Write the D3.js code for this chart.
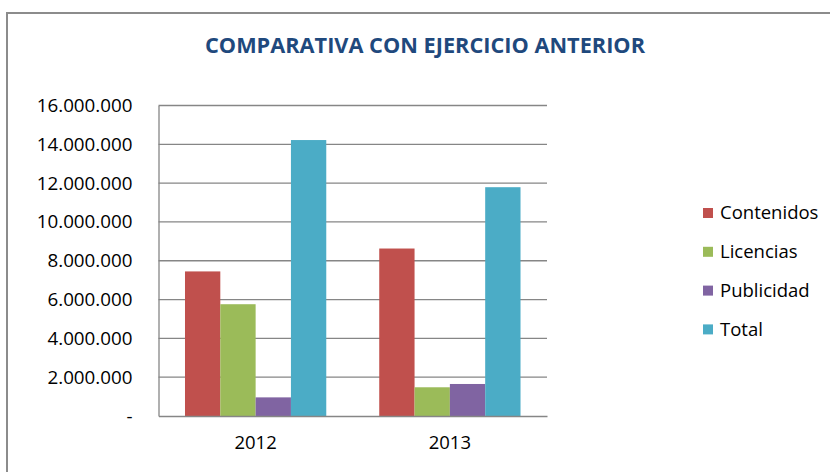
<!DOCTYPE html>
<html><head><meta charset="utf-8">
<script src="https://cdn.jsdelivr.net/npm/d3@7"></script>
<style>body{margin:0;background:#fff}svg{display:block}</style>
</head><body><svg id="c" width="830" height="472"></svg>
<script>
const title = "COMPARATIVA CON EJERCICIO ANTERIOR";
const categories = ["2012", "2013"];
const seriesNames = ["Contenidos", "Licencias", "Publicidad", "Total"];
const seriesColors = ["#C0504D", "#9BBB59", "#8064A2", "#4BACC6"];
const contenidos = [7450000, 8630000];
const licencias = [5760000, 1480000];
const publicidad = [960000, 1650000];
const total = [14220000, 11790000];
const yTicks = [0, 2000000, 4000000, 6000000, 8000000, 10000000, 12000000, 14000000, 16000000];

const values = [contenidos, licencias, publicidad, total];
const svg = d3.select("#c");
const font = "'Open Sans', sans-serif";

// frame
svg.append("rect").attr("x", 7).attr("y", 13).attr("width", 830).attr("height", 470)
  .attr("fill", "#fff").attr("stroke", "#8C8C8C").attr("stroke-width", 2);

svg.append("text").attr("x", 425).attr("y", 53).attr("text-anchor", "middle")
  .attr("font-family", font).attr("font-weight", "bold").attr("font-size", 22)
  .attr("textLength", 440).attr("lengthAdjust", "spacingAndGlyphs")
  .attr("fill", "#1F497D").text(title);

const pLeft = 158.5, pRight = 547, pTop = 105.5, pBottom = 416;
const x0 = d3.scaleBand().domain(categories).range([pLeft, pRight]).padding(0);
const bw = x0.bandwidth();
const x1 = d3.scaleBand().domain(seriesNames)
  .range([bw * (0.75 / 5.5), bw * (1 - 0.75 / 5.5)]).padding(0);
const y = d3.scaleLinear().domain([0, 16000000]).range([pBottom, pTop]);

const fmt = v => v === 0 ? "-" : d3.format(",")(v).replace(/,/g, ".");

// gridlines
svg.append("g").selectAll("line").data(yTicks.filter(d => d > 0)).join("line")
  .attr("x1", pLeft).attr("x2", pRight).attr("y1", d => y(d)).attr("y2", d => y(d))
  .attr("stroke", "#868686").attr("stroke-width", 1.3);

// y axis
const yAxis = svg.append("g").attr("transform", `translate(${pLeft},0)`)
  .call(d3.axisLeft(y).tickValues(yTicks).tickFormat(fmt).tickSize(0).tickPadding(26));
yAxis.select(".domain").attr("stroke", "#868686").attr("stroke-width", 1.3);
yAxis.selectAll("text").attr("font-family", font).attr("font-size", 18.8).attr("fill", "#000");

// bars
const groups = svg.append("g").selectAll("g").data(categories).join("g")
  .attr("transform", d => `translate(${x0(d)},0)`);
groups.selectAll("rect").data((c, i) => seriesNames.map((s, j) => ({s, j, v: values[j][i]})))
  .join("rect")
  .attr("x", d => x1(d.s)).attr("width", x1.bandwidth())
  .attr("y", d => y(d.v)).attr("height", d => pBottom - y(d.v))
  .attr("fill", d => seriesColors[d.j]);

// x axis
const xAxis = svg.append("g").attr("transform", `translate(0,${pBottom})`)
  .call(d3.axisBottom(x0).tickSize(0).tickPadding(20));
xAxis.select(".domain").attr("stroke", "#868686").attr("stroke-width", 1.3);
xAxis.selectAll("text").attr("font-family", font).attr("font-size", 18.5).attr("fill", "#000");

// legend
const lg = svg.append("g").selectAll("g").data(seriesNames).join("g")
  .attr("transform", (d, i) => `translate(703,${213 + i * 38.8})`);
lg.append("rect").attr("x", 0).attr("y", -5).attr("width", 10).attr("height", 10)
  .attr("fill", (d, i) => seriesColors[i]);
lg.append("text").attr("x", 17).attr("y", 0).attr("dy", "0.35em")
  .attr("font-family", font).attr("font-size", 18.5).attr("fill", "#000").text(d => d);
</script></body></html>
